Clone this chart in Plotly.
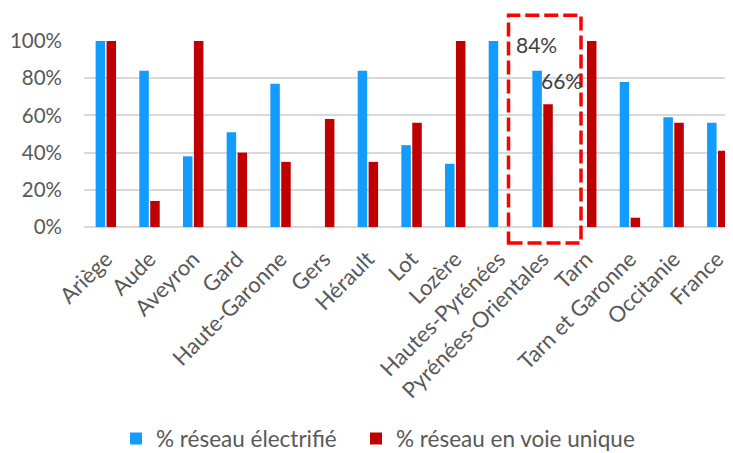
import plotly.graph_objects as go

categories = ["Ariège", "Aude", "Aveyron", "Gard", "Haute-Garonne", "Gers", "Hérault", "Lot",
              "Lozère", "Hautes-Pyrénées", "Pyrénées-Orientales", "Tarn", "Tarn et Garonne",
              "Occitanie", "France"]
electrifie = [1.00, 0.84, 0.38, 0.51, 0.77, 0.0, 0.84, 0.44, 0.34, 1.00, 0.84, 0.0, 0.78, 0.59, 0.56]
voie_unique = [1.00, 0.14, 1.00, 0.40, 0.35, 0.58, 0.35, 0.56, 1.00, 0.0, 0.66, 1.00, 0.05, 0.56, 0.41]
tick_vals = [0, 0.2, 0.4, 0.6, 0.8, 1.0]

FONT = "Lato"
GREY = "#595959"

fig = go.Figure()
fig.add_trace(go.Bar(x=categories, y=electrifie, name="% réseau électrifié", legend="legend",
                     marker=dict(color="#129CFF", line=dict(width=0))))
fig.add_trace(go.Bar(x=categories, y=voie_unique, name="% réseau en voie unique", legend="legend2",
                     marker=dict(color="#C00000", line=dict(width=0))))

# the page body has an 8px margin; size the figure so it fills the 733x453 window
OFF = 8
W, H = 733 - OFF, 453 - OFF
L, R, T, B = 76, 0, 33.3, 225.5
PW, PH = W - L - R, H - T - B


def px_x(px):
    return (px - OFF - L) / PW


def px_y(py):
    return (H - B - (py - OFF)) / PH


legend_common = dict(orientation="h", xanchor="left", yanchor="middle", y=px_y(439.5),
                     font=dict(size=22.5, color=GREY), itemwidth=30,
                     bgcolor="rgba(0,0,0,0)", borderwidth=0)

fig.update_layout(
    width=W, height=H,
    margin=dict(l=L, r=R, t=T, b=B, pad=0, autoexpand=False),
    paper_bgcolor="white", plot_bgcolor="white",
    barmode="group", bargap=0.5, bargroupgap=0.13,
    font=dict(family=FONT, color=GREY, size=22),
    showlegend=True,
    legend=dict(x=px_x(116), **legend_common),
    legend2=dict(x=px_x(356), **legend_common),
    xaxis=dict(range=[-0.5, 14.36], tickangle=-45, showgrid=False, showline=False,
               ticks="", automargin=False, ticklabelstandoff=14,
               tickfont=dict(size=22, color=GREY)),
    yaxis=dict(range=[0, 1], tickvals=tick_vals, tickformat=".0%", showgrid=True,
               gridcolor="#D9D9D9", gridwidth=1.8, zeroline=True, zerolinecolor="#D9D9D9",
               zerolinewidth=1.8, ticks="", automargin=False, ticklabelstandoff=21,
               tickfont=dict(size=20.5, color=GREY)),
)

# highlight box around Pyrénées-Orientales
fig.add_shape(type="rect", xref="paper", yref="paper",
              x0=px_x(508.5), x1=px_x(581), y0=px_y(243.5), y1=px_y(15.5),
              line=dict(color="#FF0000", width=3.5, dash="14px,5px"), fillcolor="rgba(0,0,0,0)")

fig.add_annotation(x="Pyrénées-Orientales", y=0.98, text="84%", showarrow=False,
                   xshift=-6.5, font=dict(size=21, color="#404040", family=FONT))
fig.add_annotation(x="Pyrénées-Orientales", y=0.79, text="66%", showarrow=False,
                   xshift=18.5, font=dict(size=21, color="#404040", family=FONT))

fig.write_html("out.html")
